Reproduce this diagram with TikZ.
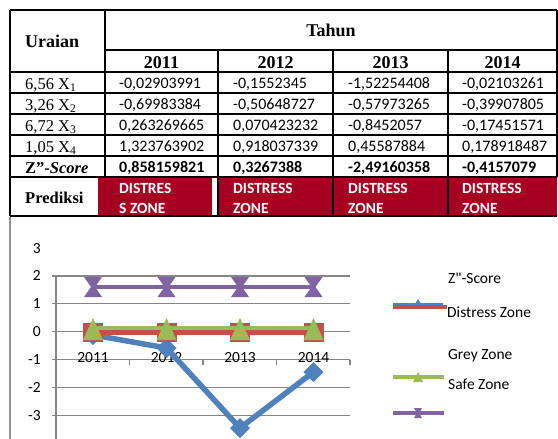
\documentclass[tikz,border=0pt]{standalone}
\usepackage{fontspec}
\setmainfont{Liberation Serif}
\newfontfamily\carl{Carlito}
\usetikzlibrary{shapes.geometric}
\definecolor{dred}{RGB}{165,0,33}
\definecolor{sblue}{HTML}{4F81BD}
\definecolor{sred}{HTML}{C0504D}
\definecolor{sgreen}{HTML}{9BBB59}
\definecolor{spurple}{HTML}{8064A2}
\definecolor{grid}{HTML}{868686}
\tikzset{
  tline/.style={line width=1.6pt, black},
  hdr/.style={font=\fontsize{18}{20}\selectfont\bfseries, inner sep=0, anchor=base},
  lab/.style={font=\fontsize{16.5}{19}\selectfont, inner sep=0, anchor=base west},
  num/.style={font=\carl\fontsize{16}{19}\selectfont, inner sep=0, anchor=base west},
  numb/.style={font=\carl\bfseries\fontsize{16}{19}\selectfont, inner sep=0, anchor=base west},
  rtxt/.style={font=\carl\bfseries\fontsize{15.5}{20}\selectfont, text=white, inner sep=0, anchor=base west},
  ctxt/.style={font=\carl\fontsize{15.5}{18}\selectfont, inner sep=0},
  gridl/.style={grid, line width=1.2pt},
  bmk/.pic={\fill[sblue] (0,-10) -- (10,0) -- (0,10) -- (-10,0) -- cycle;},
  rmk/.pic={\fill[sred] (-10,-9.5) rectangle (10,9.5);},
  gmk/.pic={\fill[sgreen] (-10,12) -- (10,12) -- (0,-10) -- cycle;},
  pmk/.pic={\fill[spurple] (-9,-10) -- (9,-10) -- (2,0) -- (9,10) -- (-9,10) -- (-2,0) -- cycle;},
}
\begin{document}
\begin{tikzpicture}[x=1pt,y=-1pt]
\useasboundingbox (0,0) rectangle (558,439);
\fill[white] (0,0) rectangle (558,439);
% ---------- table ----------
\fill[dred] (98,177) rectangle (212,216);
\fill[dred] (218,177) rectangle (333,216);
\fill[dred] (333,177) rectangle (448,216);
\fill[dred] (448,177) rectangle (557,216);
\draw[tline] (10,10) -- (557,10);
\draw[tline] (10,10) -- (10,216);
\draw[tline] (557,10) -- (557,177);
\draw[tline] (105,10) -- (105,177);
\draw[tline] (218,50) -- (218,216);
\draw[tline] (333,50) -- (333,216);
\draw[tline] (448,50) -- (448,216);
\draw[tline] (105,50) -- (557,50);
\foreach \yy in {72,93,114,135,156,177}{\draw[tline] (10,\yy) -- (557,\yy);}
\draw[tline] (10,216) -- (557,216);

\node[hdr, anchor=base west] (ur) at (25,48) {Uraian};
\node[hdr] (th) at (331,37) {Tahun};
\node[hdr] (y1) at (161.5,68) {2011};
\node[hdr] (y2) at (275.5,68) {2012};
\node[hdr] (y3) at (390.5,68) {2013};
\node[hdr] (y4) at (502.5,68) {2014};

\node[lab] (l1) at (25,89) {6,56 X\textsubscript{1}};
\node[lab] (l2) at (25,110) {3,26 X\textsubscript{2}};
\node[lab] (l3) at (25,131) {6,72 X\textsubscript{3}};
\node[lab] (l4) at (25,152) {1,05 X\textsubscript{4}};
\node[lab] (l5) at (25,173) {\textbf{Z”-\textit{Score}}};
\node[lab] (l6) at (25,203.5) {\textbf{Prediksi}};

\node[num] (a1) at (119,88) {-0,02903991};
\node[num] (a2) at (233,88) {-0,1552345};
\node[num] (a3) at (348,88) {-1,52254408};
\node[num] (a4) at (462,88) {-0,02103261};
\node[num] (b1t) at (119,109) {-0,69983384};
\node[num] (b2t) at (233,109) {-0,50648727};
\node[num] (b3t) at (348,109) {-0,57973265};
\node[num] (b4t) at (462,109) {-0,39907805};
\node[num] (c1) at (119,130) {0,263269665};
\node[num] (c2) at (233,130) {0,070423232};
\node[num] (c3) at (348,130) {-0,8452057};
\node[num] (c4) at (462,130) {-0,17451571};
\node[num] (d1) at (119,151) {1,323763902};
\node[num] (d2) at (233,151) {0,918037339};
\node[num] (d3) at (348,151) {0,45587884};
\node[num] (d4) at (462,151) {0,178918487};
\node[numb] (e1) at (119,172) {0,858159821};
\node[numb] (e2) at (233,172) {0,3267388};
\node[numb] (e3) at (348,172) {-2,49160358};
\node[numb] (e4) at (462,172) {-0,4157079};

\node[rtxt] (p1a) at (119,193) {DISTRES};
\node[rtxt] (p1b) at (119,213) {S ZONE};
\node[rtxt] (p2a) at (233,193) {DISTRESS};
\node[rtxt] (p2b) at (233,213) {ZONE};
\node[rtxt] (p3a) at (348,193) {DISTRESS};
\node[rtxt] (p3b) at (348,213) {ZONE};
\node[rtxt] (p4a) at (462,193) {DISTRESS};
\node[rtxt] (p4b) at (462,213) {ZONE};

% ---------- chart ----------
\draw[grid!90, line width=2.2pt] (10,217) -- (10,439);
\foreach \v in {2,1,0,-2,-3}{\draw[gridl] (52,{331.7-27.9*\v}) -- (350,{331.7-27.9*\v});}
\draw[gridl] (52,359.6) -- (350,359.6);
\foreach \xx in {56,129.5,203,276.5,350}{\draw[gridl] (\xx,359.6) -- (\xx,365);}
\draw[gridl] (56,276) -- (56,439);

\foreach \v/\lbl in {3/3,2/2,1/1,0/0,-1/-1,-2/-2,-3/-3}{
  \node[ctxt, anchor=base east] (yl\lbl) at (41,{331.7-27.9*\v+5}) {\lbl};}
\node[ctxt, anchor=base] (x1) at (93,362) {2011};
\node[ctxt, anchor=base] (x2) at (166.5,362) {2012};
\node[ctxt, anchor=base] (x3) at (240,362) {2013};
\node[ctxt, anchor=base] (x4) at (313.5,362) {2014};

% series coordinates
\coordinate (z1) at (93,335);
\coordinate (z2) at (166.5,348);
\coordinate (z3) at (240,428);
\coordinate (z4) at (313.5,372);
\coordinate (r1) at (93,332.5);
\coordinate (r4) at (313.5,332.5);
\coordinate (g1) at (93,328);
\coordinate (g4) at (313.5,328);
\coordinate (s1) at (93,287);
\coordinate (s4) at (313.5,287);

\draw[sblue, line width=5.5pt, line join=round] (z1) -- (z2) -- (z3) -- (z4);
\foreach \c in {z1,z2,z3,z4}{\pic at (\c) {bmk};}
\draw[sred, line width=4.5pt] (r1) -- (r4);
\foreach \xx in {93,166.5,240,313.5}{\pic at (\xx,332) {rmk};}
\draw[sgreen, line width=4.5pt] (g1) -- (g4);
\foreach \xx in {93,166.5,240,313.5}{\pic at (\xx,328) {gmk};}
\draw[spurple, line width=4.5pt] (s1) -- (s4);
\foreach \xx in {93,166.5,240,313.5}{\pic at (\xx,287) {pmk};}

% legend
\coordinate (lb0) at (393,304); \coordinate (lb1) at (443,304);
\coordinate (lr0) at (393,307); \coordinate (lr1) at (447,307);
\coordinate (lg0) at (393,377); \coordinate (lg1) at (444,377);
\coordinate (lp0) at (393,413); \coordinate (lp1) at (444,413);
\draw[sblue, line width=2pt] (lb0) -- (lb1);
\fill[sblue] (418,299) -- (421,304) -- (418,309) -- (415,304) -- cycle;
\draw[sred, line width=4pt] (lr0) -- (lr1);
\draw[sgreen, line width=4.5pt] (lg0) -- (lg1);
\fill[sgreen] (413,382) -- (423,382) -- (418,372) -- cycle;
\draw[spurple, line width=4.5pt] (lp0) -- (lp1);
\fill[spurple] (414,408) -- (422,408) -- (419,413) -- (422,418) -- (414,418) -- (417,413) -- cycle;

\node[ctxt, anchor=base west] (lz) at (448,283) {Z"-Score};
\node[ctxt, anchor=base west] (ld) at (447,317) {Distress Zone};
\node[ctxt, anchor=base west] (lgz) at (448,359) {Grey Zone};
\node[ctxt, anchor=base west] (lsz) at (448,389) {Safe Zone};
\end{tikzpicture}
\end{document}
